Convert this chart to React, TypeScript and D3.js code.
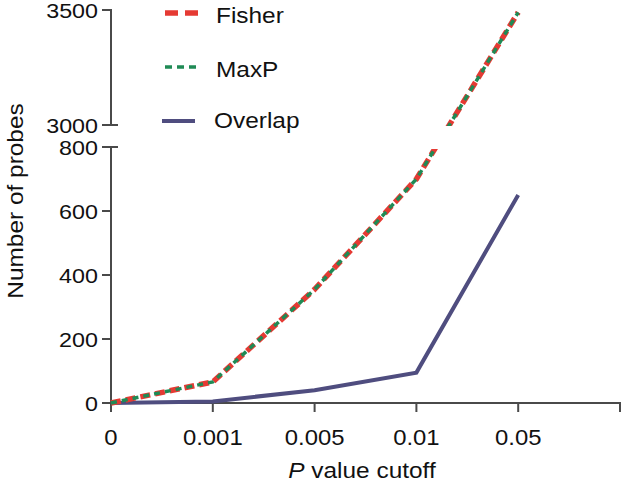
import React from "react";
import * as d3 from "d3";

const categories = ["0", "0.001", "0.005", "0.01", "0.05"];
const fisher = [0, 66, 355, 700, 3490];
const maxP = [0, 66, 355, 700, 3490];
const overlap = [0, 5, 40, 95, 650];
const lowerTicks = [0, 200, 400, 600, 800];
const upperTicks = [3000, 3500];

const W = 623;
const H = 489;
const FONT = "'Liberation Sans', Arial, sans-serif";
const AXIS = "#4a4a4a";
const SX = 1.11;

function T(props: {
  x: number;
  y: number;
  size: number;
  anchor?: "start" | "middle" | "end";
  rotate?: boolean;
  dy?: string;
  children: React.ReactNode;
}) {
  const { x, y, size, anchor = "start", rotate = false, dy, children } = props;
  return (
    <g transform={`translate(${x},${y})${rotate ? " rotate(-90)" : ""} scale(${SX},1)`}>
      <text textAnchor={anchor} dy={dy} fontFamily={FONT} fontSize={size} fill="#111">
        {children}
      </text>
    </g>
  );
}

export default function App() {
  const x = d3.scaleLinear().domain([0, 5]).range([111, 620]);
  const yLow = d3.scaleLinear().domain([0, 800]).range([403, 147]);
  const yUp = d3.scaleLinear().domain([3000, 3500]).range([125, 10]);
  const y = (v: number) => (v >= 3000 ? yUp(v) : yLow(v));

  const line = d3
    .line<number>()
    .x((_, i) => x(i))
    .y((v) => y(v));

  const series = [
    { name: "Fisher", data: fisher },
    { name: "MaxP", data: maxP },
    { name: "Overlap", data: overlap },
  ];

  return (
    <svg width={W} height={H} style={{ position: "absolute", left: 0, top: 0 }}>
      <defs>
        <clipPath id="brk">
          <rect x={0} y={0} width={W} height={126} />
          <rect x={0} y={149} width={W} height={H - 149} />
        </clipPath>
      </defs>
      <rect width={W} height={H} fill="#fff" />
      {/* Y axis lower */}
      <line x1={111} x2={111} y1={yLow(800)} y2={yLow(0)} stroke={AXIS} strokeWidth={2} />
      {lowerTicks.map((t) => (
        <g key={t}>
          <line x1={102} x2={t === 800 ? 118 : 111} y1={yLow(t)} y2={yLow(t)} stroke={AXIS} strokeWidth={2} />
          <T x={98} y={yLow(t)} dy="0.36em" anchor="end" size={21}>
            {t}
          </T>
        </g>
      ))}
      {/* Y axis upper */}
      <line x1={111} x2={111} y1={yUp(3500)} y2={yUp(3000)} stroke={AXIS} strokeWidth={2} />
      {upperTicks.map((t) => (
        <g key={t}>
          <line x1={102} x2={t === 3000 ? 118 : 112} y1={yUp(t)} y2={yUp(t)} stroke={AXIS} strokeWidth={2} />
          <T x={98} y={yUp(t)} dy="0.36em" anchor="end" size={21}>
            {t}
          </T>
        </g>
      ))}
      {/* X axis */}
      <line x1={110} x2={621} y1={403} y2={403} stroke={AXIS} strokeWidth={2} />
      {d3.range(6).map((i) => (
        <line key={i} x1={x(i)} x2={x(i)} y1={403} y2={412} stroke={AXIS} strokeWidth={2} />
      ))}
      {categories.map((c, i) => (
        <T key={c} x={x(i)} y={445} anchor="middle" size={21.5}>
          {c}
        </T>
      ))}
      <T x={362} y={478} anchor="middle" size={22}>
        <tspan fontStyle="italic">P</tspan> value cutoff
      </T>
      <T x={23} y={201} anchor="middle" size={22} rotate>
        Number of probes
      </T>
      {/* Lines */}
      <g clipPath="url(#brk)" fill="none">
        <path d={line(series[2].data) || ""} stroke="#4f4d7f" strokeWidth={4} strokeLinejoin="miter" />
        <path d={line(series[0].data) || ""} stroke="#e53a33" strokeWidth={5.5} strokeDasharray="10,5" />
        <path d={line(series[1].data) || ""} stroke="#1f8a55" strokeWidth={3.5} strokeDasharray="6,5" />
      </g>
      {/* Legend */}
      <line x1={165} x2={199} y1={13} y2={13} stroke="#e53a33" strokeWidth={5.5} strokeDasharray="13,7" />
      <T x={216} y={23} size={22}>Fisher</T>
      <line x1={165} x2={197} y1={67} y2={67} stroke="#1f8a55" strokeWidth={3.5} strokeDasharray="7,5" />
      <T x={216} y={77} size={22}>MaxP</T>
      <line x1={162} x2={195} y1={121} y2={121} stroke="#4f4d7f" strokeWidth={4} />
      <T x={214} y={128} size={22}>Overlap</T>
    </svg>
  );
}
